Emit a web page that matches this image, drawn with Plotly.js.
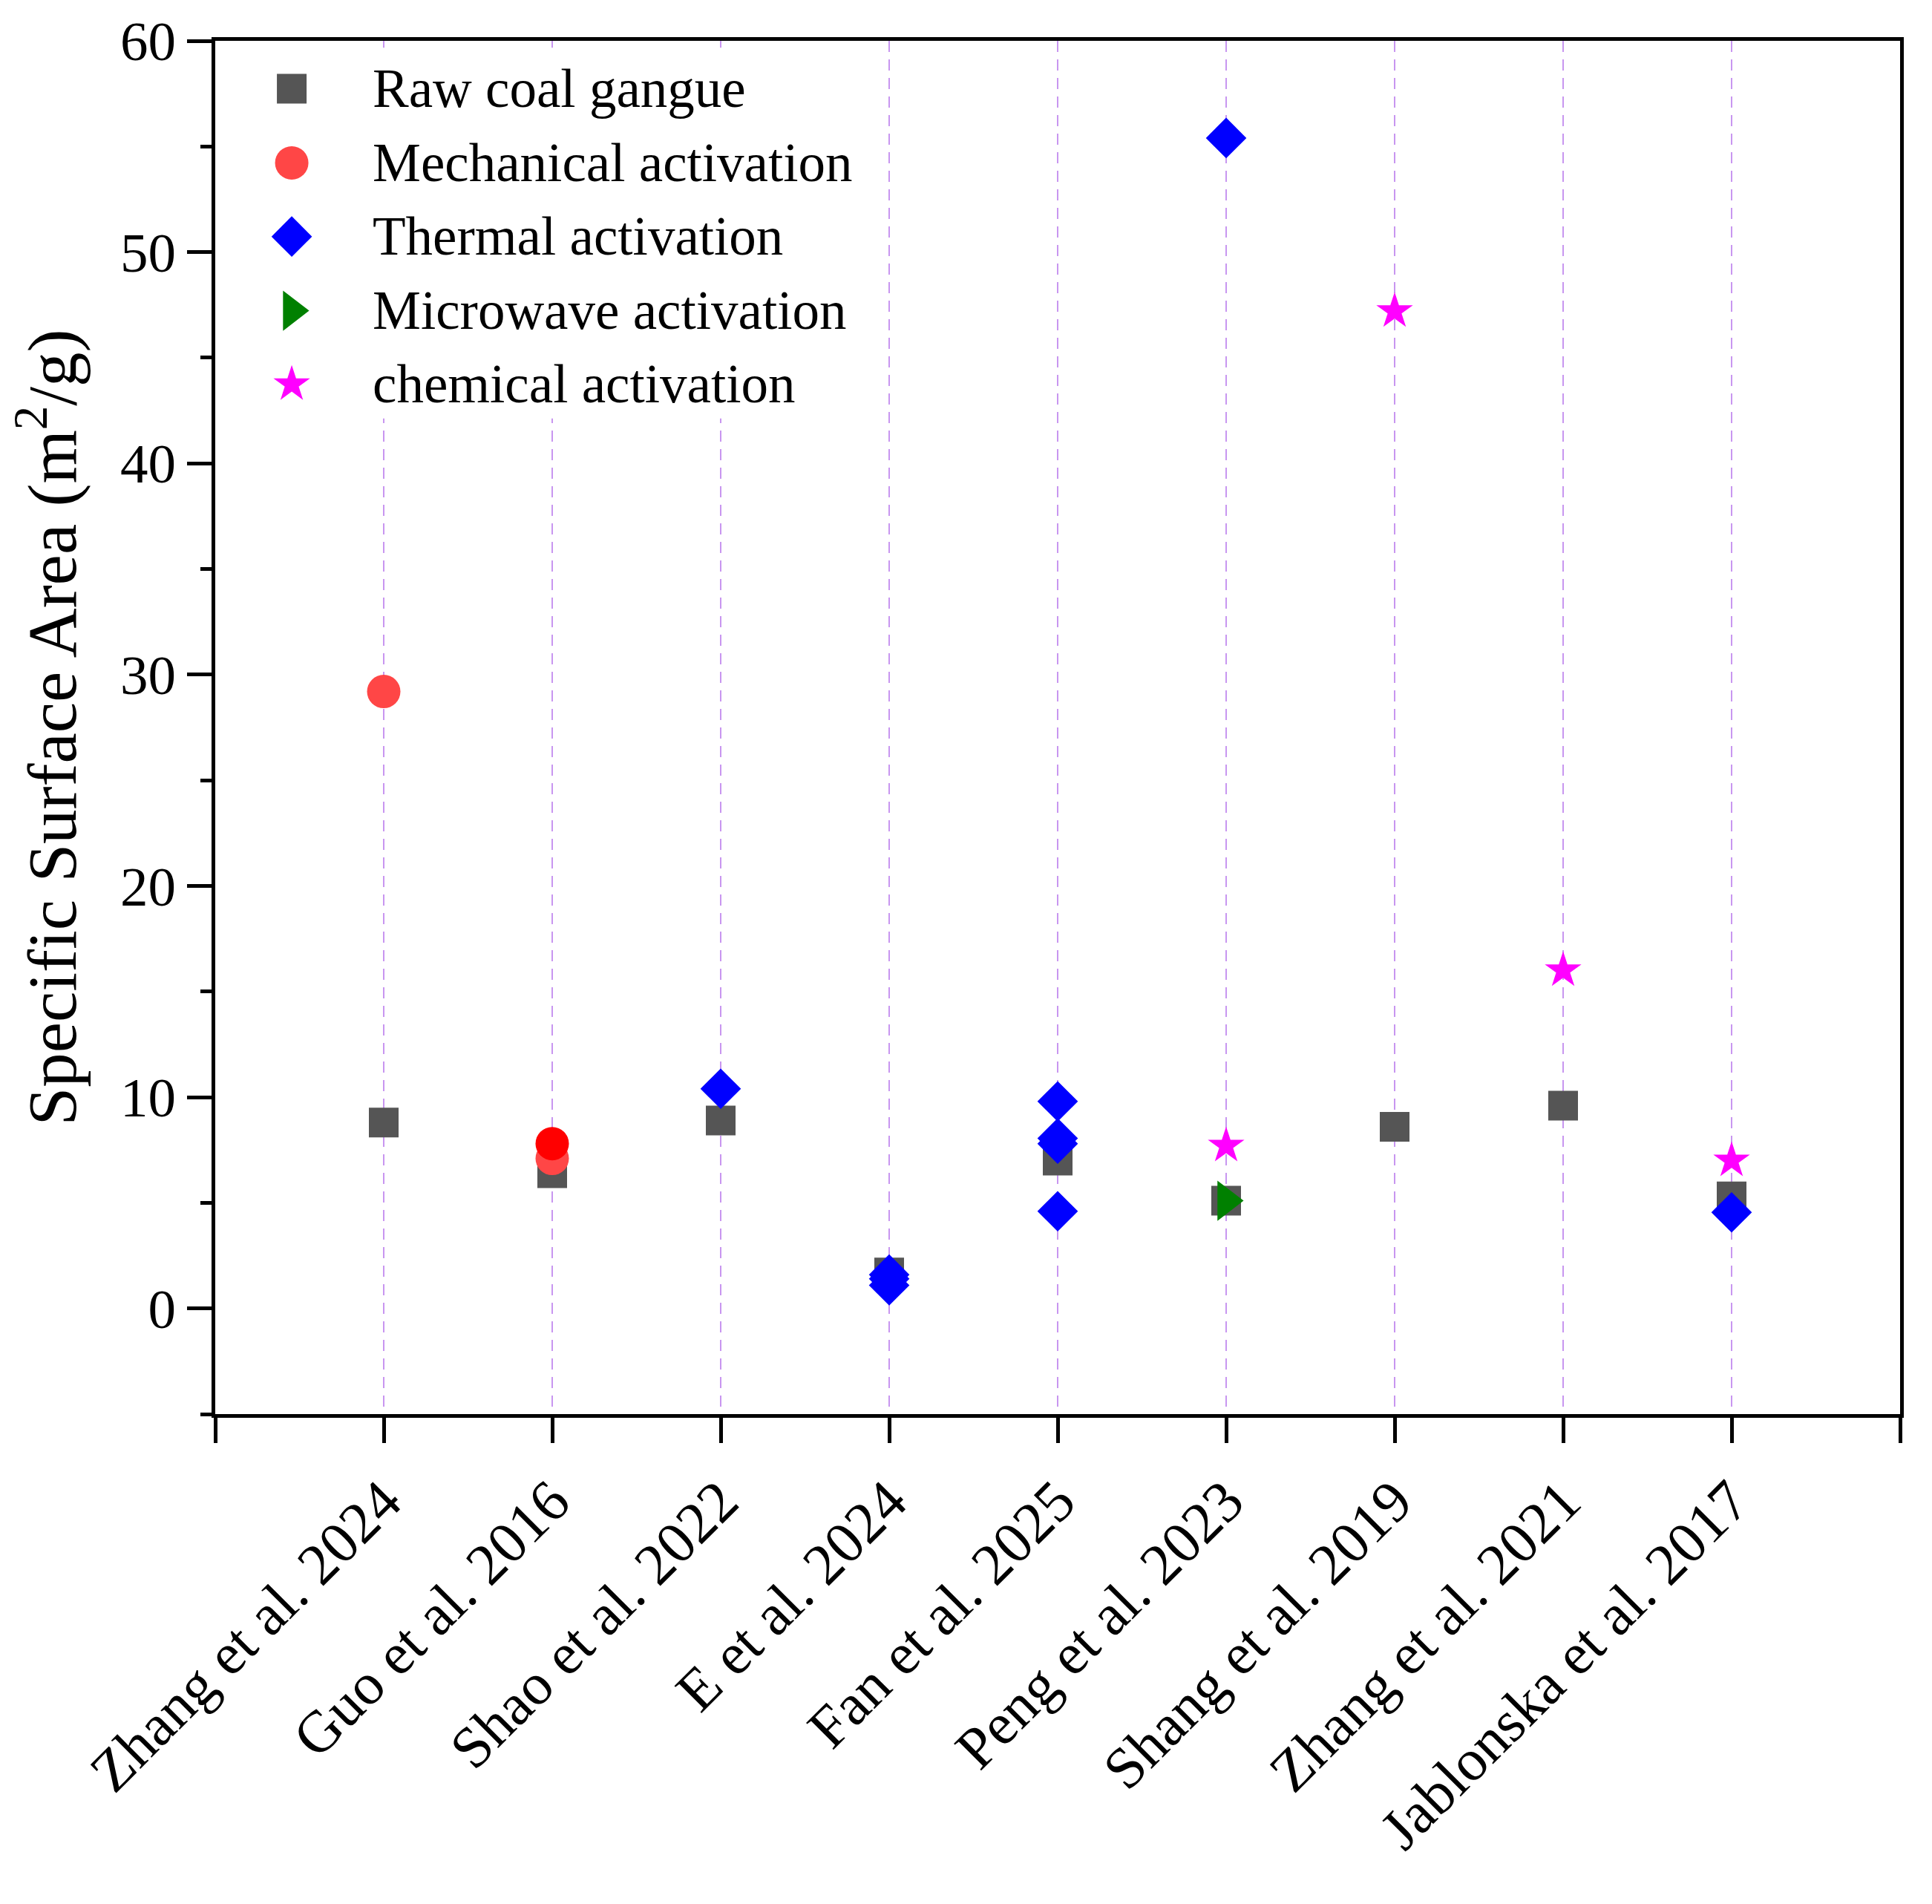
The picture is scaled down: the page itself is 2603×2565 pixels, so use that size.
<!DOCTYPE html>
<html>
<head>
<meta charset="utf-8">
<script src="https://cdn.plot.ly/plotly-3.0.1.min.js"></script>
<style>
  html, body { margin: 0; padding: 0; background: #ffffff; overflow: hidden; }
  #chart { width: 2603px; height: 2565px; }
</style>
</head>
<body>
<div id="chart"></div>
<script>
// ---------------- DATA ----------------
const categories = [
  "Zhang et al. 2024", "Guo et al. 2016", "Shao et al. 2022", "E et al. 2024",
  "Fan et al. 2025", "Peng et al. 2023", "Shang et al. 2019", "Zhang et al. 2021",
  "Jablonska et al. 2017"
];

const seriesNames = [
  "Raw coal gangue", "Mechanical activation", "Thermal activation",
  "Microwave activation", "chemical activation"
];

const rawCats = categories.slice();
const rawValues = [8.8, 6.4, 8.9, 1.7, 7.0, 5.1, 8.6, 9.6, 5.3];

const mechCats = ["Zhang et al. 2024", "Guo et al. 2016", "Guo et al. 2016"];
const mechValues = [29.2, 7.1, 7.8];

const thermalCats = [
  "Shao et al. 2022", "E et al. 2024", "E et al. 2024", "E et al. 2024",
  "Fan et al. 2025", "Fan et al. 2025", "Fan et al. 2025", "Fan et al. 2025",
  "Peng et al. 2023", "Jablonska et al. 2017"
];
const thermalValues = [10.4, 1.6, 1.4, 1.1, 9.8, 8.05, 7.8, 4.6, 55.4, 4.55];

const microCats = ["Peng et al. 2023"];
const microValues = [5.1];

const chemCats = ["Peng et al. 2023", "Shang et al. 2019", "Zhang et al. 2021", "Jablonska et al. 2017"];
const chemValues = [7.7, 47.2, 16.0, 7.0];

const yTickValues = [0, 10, 20, 30, 40, 50, 60];
const yMinorTickValues = [-5, 5, 15, 25, 35, 45, 55];

// ---------------- STYLE ----------------
const FONT = "Liberation Serif, Times New Roman, serif";
const pos = c => categories.indexOf(c) + 1;   // category -> axis position
const xRange = [0, categories.length + 1];

const styles = [
  { symbol: "square",         color: "#555555", size: 40 },
  { symbol: "circle",         color: "#ff4646", size: 45 },
  { symbol: "diamond",        color: "#0000ff", size: 42 },
  { symbol: "triangle-right", color: "#008000", size: 47 },
  { symbol: "star",           color: "#ff00ff", size: 37 }
];

const seriesCats = [rawCats, mechCats, thermalCats, microCats, chemCats];
const seriesVals = [rawValues, mechValues, thermalValues, microValues, chemValues];

const traces = seriesNames.map((name, i) => {
  let color = styles[i].color;
  if (i === 1) color = ["#ff4646", "#ff4646", "#ff0000"];
  return {
    type: "scatter", mode: "markers", name: name, showlegend: false,
    x: seriesCats[i].map(pos), y: seriesVals[i],
    xaxis: "x", yaxis: "y",
    marker: { symbol: styles[i].symbol, color: color, size: styles[i].size, line: { width: 0 } },
    hoverinfo: "skip"
  };
});

// ---- custom legend (large markers) on an overlay subplot in unit coordinates ----
const legendBox = { x0: 0.01, x1: 0.388, y0: 0.725, y1: 0.995 };
const legendMarkerX = 0.0454;
const legendTextX = 0.0925;
const legendRowY = [0.9651, 0.9111, 0.8575, 0.8035, 0.7499];

// white legend background (covers the dashed grid lines)
traces.push({
  type: "scatter", mode: "lines", showlegend: false,
  x: [legendBox.x0, legendBox.x1, legendBox.x1, legendBox.x0, legendBox.x0],
  y: [legendBox.y0, legendBox.y0, legendBox.y1, legendBox.y1, legendBox.y0],
  xaxis: "x2", yaxis: "y2",
  fill: "toself", fillcolor: "#ffffff", line: { width: 0, color: "rgba(0,0,0,0)" },
  hoverinfo: "skip"
});

seriesNames.forEach((name, i) => {
  traces.push({
    type: "scatter", mode: "markers", showlegend: false,
    x: [legendMarkerX], y: [legendRowY[i]],
    xaxis: "x2", yaxis: "y2",
    marker: { symbol: styles[i].symbol, color: styles[i].color, size: styles[i].size, line: { width: 0 } },
    hoverinfo: "skip", cliponaxis: false
  });
});

const annotations = seriesNames.map((name, i) => ({
  xref: "paper", yref: "paper", x: legendTextX, y: legendRowY[i],
  xanchor: "left", yanchor: "middle", showarrow: false,
  text: name, font: { family: FONT, size: 73, color: "#000000" }
}));

const layout = {
  width: 2603, height: 2565,
  paper_bgcolor: "#ffffff", plot_bgcolor: "#ffffff",
  margin: { l: 290, r: 43, t: 55, b: 660, pad: 0 },
  showlegend: false,
  font: { family: FONT, size: 74, color: "#000000" },
  xaxis: {
    range: xRange,
    tickmode: "array",
    tickvals: categories.map(pos),
    ticktext: categories,
    tickangle: -45,
    ticks: "outside", ticklen: 34, tickwidth: 5, tickcolor: "#000000",
    minor: { tickmode: "array", tickvals: xRange, ticks: "outside", ticklen: 34, tickwidth: 5, tickcolor: "#000000", showgrid: false },
    showline: true, linewidth: 5, linecolor: "#000000", mirror: true,
    showgrid: true, gridcolor: "rgb(200,150,240)", gridwidth: 2.5, griddash: "15px,10px",
    zeroline: false,
    tickfont: { family: FONT, size: 79, color: "#000000" },
    fixedrange: true
  },
  yaxis: {
    range: [-5, 60],
    tickmode: "array",
    tickvals: yTickValues,
    ticktext: yTickValues.map(String),
    ticks: "outside", ticklen: 33, tickwidth: 5, tickcolor: "#000000",
    minor: { tickmode: "array", tickvals: yMinorTickValues, ticks: "outside", ticklen: 15, tickwidth: 5, tickcolor: "#000000", showgrid: false },
    showline: true, linewidth: 5, linecolor: "#000000", mirror: true,
    showgrid: false, zeroline: false,
    tickfont: { family: FONT, size: 75, color: "#000000" },
    title: { text: "Specific Surface Area (m<sup>2</sup>/g)", font: { family: FONT, size: 93, color: "#000000" }, standoff: 30 },
    fixedrange: true
  },
  xaxis2: { overlaying: "x", anchor: "y2", range: [0, 1], visible: false, showgrid: false, zeroline: false, fixedrange: true },
  yaxis2: { overlaying: "y", anchor: "x2", range: [0, 1], visible: false, showgrid: false, zeroline: false, fixedrange: true },
  annotations: annotations
};

Plotly.newPlot("chart", traces, layout, { displayModeBar: false, staticPlot: true }).then(gd => {
  // drop empty placeholder text nodes that Plotly leaves for unused titles
  gd.querySelectorAll("text").forEach(t => {
    if (!t.textContent || !t.textContent.trim()) t.remove();
  });
});
</script>
</body>
</html>
